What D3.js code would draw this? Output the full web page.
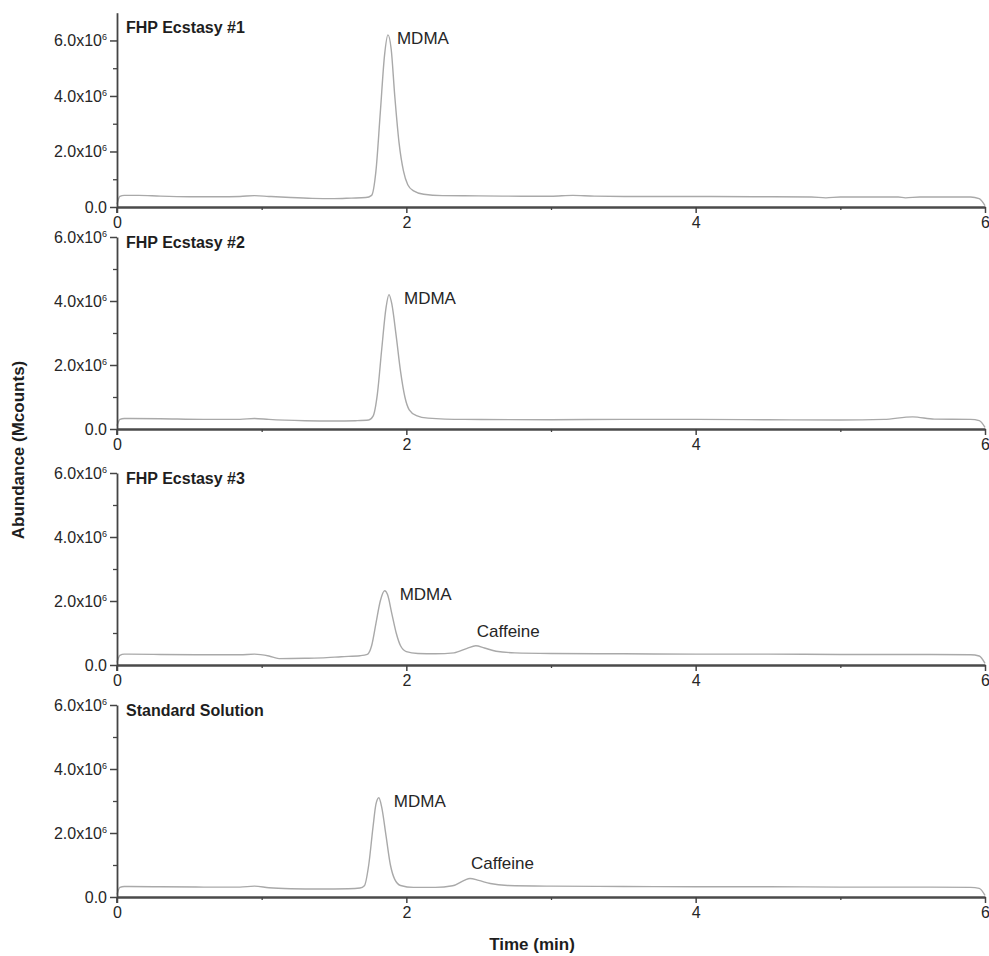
<!DOCTYPE html>
<html>
<head>
<meta charset="utf-8">
<script src="https://cdn.jsdelivr.net/npm/d3@7"></script>
<style>
  body { margin: 0; background: #fff; }
  svg { display: block; font-family: "Liberation Sans", Arial, sans-serif; }
</style>
</head>
<body>
<div id="chart"></div>
<script>
// abundance values are in units of 10^6 counts, time in minutes
const ecstasy1 = [[0,0.1],[0.02,0.38],[0.05,0.42],[0.15,0.42],[0.3,0.39],[0.5,0.37],[0.7,0.37],[0.85,0.38],[0.95,0.41],[1.05,0.38],[1.2,0.34],[1.35,0.31],[1.5,0.3],[1.62,0.32],[1.72,0.34],[1.76,0.42],[1.79,1.3],[1.82,3.4],[1.85,5.5],[1.873,6.2],[1.895,5.7],[1.92,4.0],[1.95,2.3],[1.98,1.3],[2.01,0.8],[2.05,0.58],[2.12,0.46],[2.25,0.41],[2.5,0.4],[2.8,0.39],[3.0,0.39],[3.15,0.42],[3.3,0.39],[3.6,0.38],[4.0,0.38],[4.4,0.37],[4.8,0.36],[4.9,0.33],[5.0,0.36],[5.4,0.36],[5.45,0.33],[5.55,0.36],[5.9,0.36],[5.96,0.3],[6.0,0.05]];

const ecstasy2 = [[0,0.1],[0.02,0.3],[0.05,0.33],[0.3,0.32],[0.6,0.3],[0.85,0.3],[0.95,0.33],[1.05,0.3],[1.3,0.26],[1.5,0.25],[1.65,0.26],[1.74,0.28],[1.77,0.4],[1.8,1.1],[1.83,2.5],[1.86,3.8],[1.88,4.2],[1.9,3.9],[1.93,2.9],[1.96,1.8],[1.99,1.0],[2.02,0.6],[2.07,0.42],[2.15,0.34],[2.4,0.3],[3.0,0.29],[3.5,0.3],[4.0,0.3],[4.5,0.29],[5.0,0.28],[5.3,0.3],[5.5,0.38],[5.65,0.31],[5.9,0.3],[5.96,0.26],[6.0,0.05]];

const ecstasy3 = [[0,0.08],[0.02,0.3],[0.05,0.34],[0.3,0.33],[0.6,0.32],[0.85,0.32],[0.95,0.34],[1.05,0.28],[1.12,0.2],[1.3,0.21],[1.45,0.23],[1.55,0.26],[1.68,0.29],[1.73,0.33],[1.76,0.6],[1.79,1.3],[1.82,2.0],[1.85,2.32],[1.87,2.2],[1.9,1.6],[1.93,1.0],[1.96,0.6],[2.0,0.42],[2.08,0.36],[2.2,0.35],[2.33,0.38],[2.42,0.52],[2.48,0.6],[2.54,0.53],[2.62,0.43],[2.75,0.38],[3.0,0.36],[3.5,0.35],[4.0,0.34],[4.5,0.34],[5.0,0.33],[5.5,0.33],[5.9,0.32],[5.96,0.28],[6.0,0.05]];

const standard = [[0,0.08],[0.02,0.3],[0.05,0.33],[0.3,0.32],[0.6,0.31],[0.85,0.31],[0.95,0.34],[1.05,0.29],[1.2,0.26],[1.4,0.25],[1.6,0.26],[1.68,0.28],[1.71,0.35],[1.74,1.0],[1.77,2.2],[1.79,2.9],[1.81,3.1],[1.83,2.8],[1.86,1.9],[1.89,1.0],[1.92,0.55],[1.96,0.36],[2.05,0.3],[2.2,0.3],[2.32,0.35],[2.4,0.52],[2.44,0.58],[2.5,0.52],[2.58,0.42],[2.7,0.36],[3.0,0.34],[3.5,0.33],[4.0,0.32],[4.5,0.32],[5.0,0.31],[5.5,0.31],[5.9,0.3],[5.96,0.27],[6.0,0.05]];

const sampleNames = ["FHP Ecstasy #1", "FHP Ecstasy #2", "FHP Ecstasy #3", "Standard Solution"];
const series = [ecstasy1, ecstasy2, ecstasy3, standard];
const yMaxes = [7, 6, 6, 6];

// peak labels: [time, abundance] anchor for each compound
const peakLabels = [
  [{ name: "MDMA", t: 1.873, v: 6.2 }],
  [{ name: "MDMA", t: 1.88, v: 4.2 }],
  [{ name: "MDMA", t: 1.85, v: 2.32 }, { name: "Caffeine", t: 2.48, v: 0.6 }],
  [{ name: "MDMA", t: 1.81, v: 3.1 }, { name: "Caffeine", t: 2.44, v: 0.58 }]
];

const xMajorTicks = [0, 2, 4, 6];
const xMinorTicks = [1, 3, 5];
const yMajorTicks = [0, 2, 4, 6];
const yMinorTicks = [1, 3, 5];

const width = 989, height = 956;
const left = 117, right = 985;
// vertical extent of each panel: [top of y axis, zero line]
const panelBox = [[12.7, 207], [237, 429], [473, 665], [705, 897]];

const svg = d3.select("#chart").append("svg")
  .attr("width", width)
  .attr("height", height);

const x = d3.scaleLinear().domain([0, 6]).range([left, right]);

series.forEach((data, i) => {
  const [top, bottom] = panelBox[i];
  const y = d3.scaleLinear().domain([0, yMaxes[i]]).range([bottom, top]);
  const g = svg.append("g");

  // trace
  const line = d3.line()
    .x(d => x(d[0]))
    .y(d => y(d[1]))
    .curve(d3.curveMonotoneX);

  g.append("path")
    .datum(data)
    .attr("fill", "none")
    .attr("stroke", "#a9a9a9")
    .attr("stroke-width", 1.4)
    .attr("d", line);

  // y axis
  const yAxis = g.append("g")
    .attr("transform", `translate(${left},0)`)
    .call(d3.axisLeft(y).tickValues(yMajorTicks).tickSize(7).tickSizeOuter(0));
  yAxis.select(".domain").attr("stroke", "#444").attr("stroke-width", 1.8);
  yAxis.selectAll(".tick line").attr("stroke", "#444").attr("stroke-width", 1.5);
  yAxis.selectAll(".tick text").each(function(d) {
    const t = d3.select(this).text("")
      .attr("x", -10)
      .attr("fill", "#262626")
      .style("font-size", "16px");
    if (d === 0) {
      t.append("tspan").text("0.0");
    } else {
      t.append("tspan").text(`${d.toFixed(1)}x10`);
      t.append("tspan").attr("dy", "-0.65em").style("font-size", "9px").text("6");
    }
  });
  // y axis line runs a little past the zero line
  yAxis.append("line")
    .attr("y1", bottom)
    .attr("y2", bottom + 6)
    .attr("stroke", "#444")
    .attr("stroke-width", 1.8);

  g.append("g")
    .attr("transform", `translate(${left},0)`)
    .call(d3.axisLeft(y).tickValues(yMinorTicks).tickSize(4).tickSizeOuter(0).tickFormat(""))
    .call(a => a.select(".domain").remove())
    .selectAll("line").attr("stroke", "#444").attr("stroke-width", 1.3);

  // x axis
  const xAxis = g.append("g")
    .attr("transform", `translate(0,${bottom})`)
    .call(d3.axisBottom(x).tickValues(xMajorTicks).tickSize(6).tickSizeOuter(0).tickFormat(d3.format("d")));
  xAxis.select(".domain").attr("stroke", "#4a4a4a").attr("stroke-width", 2.6);
  xAxis.selectAll(".tick line").attr("stroke", "#444").attr("stroke-width", 1.5);
  xAxis.selectAll(".tick text")
    .attr("y", 10)
    .attr("fill", "#262626")
    .style("font-size", "16px");

  g.append("g")
    .attr("transform", `translate(0,${bottom})`)
    .call(d3.axisBottom(x).tickValues(xMinorTicks).tickSize(3).tickSizeOuter(0).tickFormat(""))
    .call(a => a.select(".domain").remove())
    .selectAll("line").attr("stroke", "#444").attr("stroke-width", 1.3);

  // sample name
  g.append("text")
    .attr("x", left + 9)
    .attr("y", i === 0 ? 33 : top + 11)
    .attr("fill", "#1e1e1e")
    .style("font-size", "16px")
    .style("font-weight", "bold")
    .text(sampleNames[i]);

  // compound labels next to peaks
  peakLabels[i].forEach(p => {
    g.append("text")
      .attr("x", x(p.t) + (p.name === "MDMA" ? (i === 0 ? 9 : 15) : 1))
      .attr("y", y(p.v) + (p.name === "MDMA" ? 9 : -9))
      .attr("fill", "#262626")
      .style("font-size", "17px")
      .text(p.name);
  });
});

// axis titles
svg.append("text")
  .attr("transform", "translate(24,450) rotate(-90)")
  .attr("text-anchor", "middle")
  .attr("fill", "#1e1e1e")
  .style("font-size", "17px")
  .style("font-weight", "bold")
  .text("Abundance (Mcounts)");

svg.append("text")
  .attr("x", 532)
  .attr("y", 950)
  .attr("text-anchor", "middle")
  .attr("fill", "#1e1e1e")
  .style("font-size", "17px")
  .style("font-weight", "bold")
  .text("Time (min)");
</script>
</body>
</html>
